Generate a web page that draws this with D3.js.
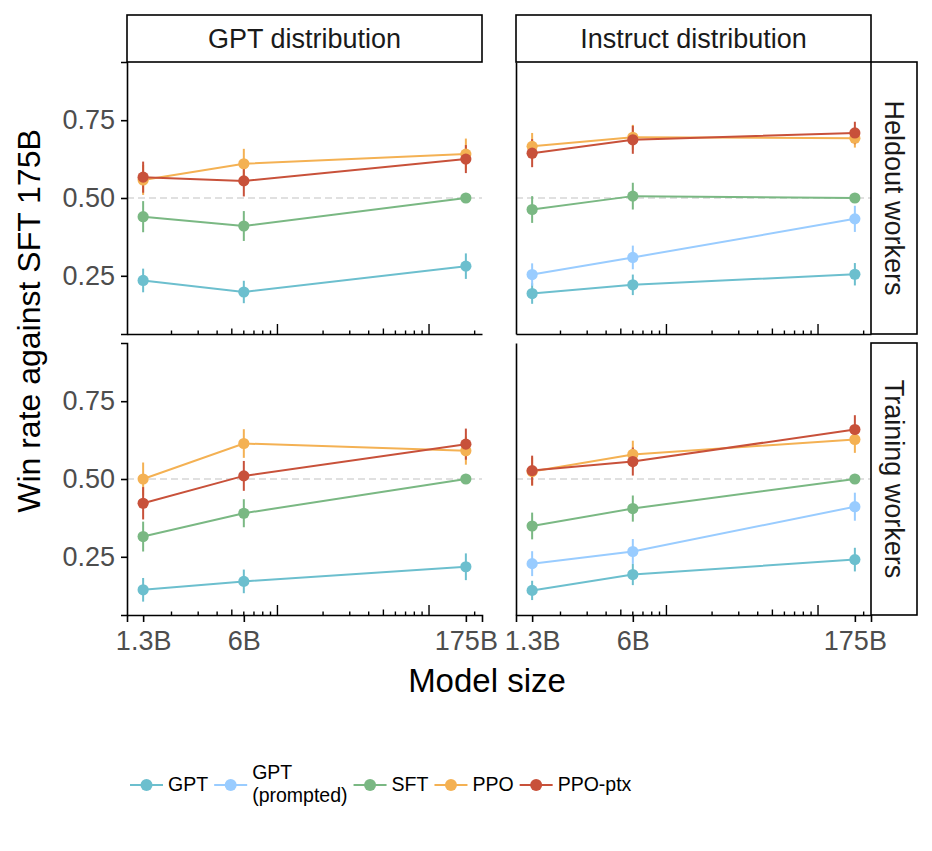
<!DOCTYPE html>
<html>
<head>
<meta charset="utf-8">
<script src="https://cdn.jsdelivr.net/npm/d3@7"></script>
<style>
  body { margin: 0; background: #fff; }
  svg { display: block; font-family: 'Liberation Sans', Arial, Helvetica, sans-serif; }
</style>
</head>
<body>
<div id="chart"></div>
<script>
// model sizes on the x axis
const sizeLabels = ['1.3B', '6B', '175B'];
const sizeParams = [1.3e9, 6e9, 175e9];

const colLabels = ['GPT distribution', 'Instruct distribution'];
const rowLabels = ['Heldout workers', 'Training workers'];

const seriesNames = ['GPT', 'GPT (prompted)', 'SFT', 'PPO', 'PPO-ptx'];
const legendLabels = ['GPT', 'GPT\n(prompted)', 'SFT', 'PPO', 'PPO-ptx'];
const seriesColors = ['#6cbfce', '#99ccff', '#7ab883', '#f4b153', '#c8513a'];

const yTicks = [0.25, 0.5, 0.75];

// win rate vs SFT 175B, rows = series, cols = model size (null = not run)
const heldoutGptDist = [
  [0.235, 0.198, 0.281],
  null,
  [0.440, 0.410, 0.500],
  [0.558, 0.610, 0.641],
  [0.567, 0.555, 0.625]
];
const heldoutGptDistErr = [
  [0.038, 0.036, 0.041],
  null,
  [0.050, 0.048, 0],
  [0.048, 0.048, 0.050],
  [0.050, 0.050, 0.045]
];

const heldoutInstructDist = [
  [0.193, 0.221, 0.255],
  [0.254, 0.309, 0.433],
  [0.463, 0.506, 0.500],
  [0.666, 0.695, 0.692],
  [0.644, 0.687, 0.709]
];
const heldoutInstructDistErr = [
  [0.033, 0.033, 0.036],
  [0.036, 0.038, 0.042],
  [0.043, 0.043, 0],
  [0.043, 0.040, 0.030],
  [0.045, 0.045, 0.036]
];

const trainingGptDist = [
  [0.144, 0.171, 0.218],
  null,
  [0.315, 0.390, 0.500],
  [0.500, 0.614, 0.591],
  [0.422, 0.510, 0.612]
];
const trainingGptDistErr = [
  [0.038, 0.038, 0.043],
  null,
  [0.048, 0.045, 0],
  [0.053, 0.046, 0.045],
  [0.052, 0.048, 0.050]
];

const trainingInstructDist = [
  [0.142, 0.193, 0.241],
  [0.228, 0.267, 0.411],
  [0.349, 0.405, 0.500],
  [0.524, 0.579, 0.627],
  [0.527, 0.556, 0.659]
];
const trainingInstructDistErr = [
  [0.031, 0.034, 0.038],
  [0.040, 0.040, 0.045],
  [0.043, 0.042, 0],
  [0.045, 0.044, 0.043],
  [0.048, 0.045, 0.046]
];

const panels = [
  { col: 0, row: 0, vals: heldoutGptDist, errs: heldoutGptDistErr },
  { col: 1, row: 0, vals: heldoutInstructDist, errs: heldoutInstructDistErr },
  { col: 0, row: 1, vals: trainingGptDist, errs: trainingGptDistErr },
  { col: 1, row: 1, vals: trainingInstructDist, errs: trainingInstructDistErr }
];

const w = 932, h = 851;
const panelW = 355, panelH = 272;
const colX = [127, 516];
const rowY = [62, 343];
const stripH = 47, stripW = 46;

const svg = d3.select('#chart')
  .append('svg')
  .attr('width', w)
  .attr('height', h);

svg.append('rect').attr('width', w).attr('height', h).attr('fill', '#fff');

// 5% expansion on log x, like ggplot
const lo = Math.log10(sizeParams[0]), hi = Math.log10(sizeParams[2]);
const pad = 0.05 * (hi - lo);
const x = d3.scaleLog()
  .domain([Math.pow(10, lo - pad), Math.pow(10, hi + pad)])
  .range([0, panelW]);

const y = d3.scaleLinear()
  .domain([0.063, 0.937])
  .range([panelH, 0]);

const line = d3.line()
  .defined(d => d != null)
  .x((d, i) => x(sizeParams[i]))
  .y(d => y(d));

panels.forEach(p => {
  const g = svg.append('g')
    .attr('transform', `translate(${colX[p.col]},${rowY[p.row]})`);

  // reference line at 0.5
  g.append('line')
    .attr('x1', 0).attr('x2', panelW)
    .attr('y1', y(0.5)).attr('y2', y(0.5))
    .attr('stroke', '#d6d6d6')
    .attr('stroke-width', 1.6)
    .attr('stroke-dasharray', '7,4');

  // log ticks along the bottom
  g.selectAll('.logtick')
    .data(x.ticks())
    .enter()
    .append('line')
    .attr('class', 'logtick')
    .attr('x1', d => x(d)).attr('x2', d => x(d))
    .attr('y1', panelH)
    .attr('y2', d => {
      const m = Math.round(d / Math.pow(10, Math.floor(Math.log10(d) + 1e-9)));
      return panelH - (m === 1 ? 10 : m === 5 ? 5.5 : 3.5);
    })
    .attr('stroke', '#000')
    .attr('stroke-width', 1.4);

  const series = p.vals.map((v, i) => ({ v, e: p.errs[i], color: seriesColors[i] }))
    .filter(s => s.v);

  g.selectAll('.line')
    .data(series)
    .enter()
    .append('path')
    .attr('d', s => line(s.v))
    .attr('fill', 'none')
    .attr('stroke', s => s.color)
    .attr('stroke-width', 2);

  series.forEach(s => {
    g.selectAll(null)
      .data(s.v)
      .enter()
      .append('line')
      .filter((d, i) => s.e[i] > 0)
      .attr('x1', (d, i) => x(sizeParams[i]))
      .attr('x2', (d, i) => x(sizeParams[i]))
      .attr('y1', (d, i) => y(d - s.e[i]))
      .attr('y2', (d, i) => y(d + s.e[i]))
      .attr('stroke', s.color)
      .attr('stroke-width', 2);
  });

  series.forEach(s => {
    g.selectAll(null)
      .data(s.v)
      .enter()
      .append('circle')
      .attr('cx', (d, i) => x(sizeParams[i]))
      .attr('cy', d => y(d))
      .attr('r', 5.6)
      .attr('fill', s.color);
  });

  // left axis
  const yAxis = d3.axisLeft(y).tickSizeOuter(0);
  if (p.col === 0) {
    yAxis.tickValues(yTicks).tickFormat(d3.format('.2f')).tickSize(6).tickPadding(6);
  } else {
    yAxis.tickValues([]);
  }
  const ya = g.append('g').call(yAxis);

  // bottom axis
  const xAxis = d3.axisBottom(x).tickSizeOuter(0);
  if (p.row === 1) {
    xAxis.tickValues(sizeParams).tickFormat((d, i) => sizeLabels[i]).tickSize(7).tickPadding(9);
  } else {
    xAxis.tickValues([]);
  }
  const xa = g.append('g').attr('transform', `translate(0,${panelH})`).call(xAxis);

  [ya, xa].forEach(a => {
    a.select('.domain').attr('stroke', '#000').attr('stroke-width', 1.6);
    a.selectAll('.tick line').attr('stroke', '#000').attr('stroke-width', 1.6);
    a.selectAll('.tick text')
      .attr('fill', '#4d4d4d')
      .style('font-size', '27px')
      .style('font-family', "'Liberation Sans', Arial, sans-serif");
  });
});

// column strips
colLabels.forEach((lab, c) => {
  svg.append('rect')
    .attr('x', colX[c]).attr('y', rowY[0] - stripH)
    .attr('width', panelW).attr('height', stripH)
    .attr('fill', '#fff').attr('stroke', '#000').attr('stroke-width', 1.6);
  svg.append('text')
    .attr('x', colX[c] + panelW / 2).attr('y', rowY[0] - stripH / 2 + 9.5)
    .attr('text-anchor', 'middle')
    .style('font-size', '27px')
    .attr('fill', '#1a1a1a')
    .text(lab);
});

// row strips
rowLabels.forEach((lab, r) => {
  const sx = colX[1] + panelW;
  svg.append('rect')
    .attr('x', sx).attr('y', rowY[r])
    .attr('width', stripW).attr('height', panelH)
    .attr('fill', '#fff').attr('stroke', '#000').attr('stroke-width', 1.6);
  const cx = sx + stripW / 2 - 9.5, cy = rowY[r] + panelH / 2;
  svg.append('text')
    .attr('transform', `translate(${cx},${cy}) rotate(90)`)
    .attr('text-anchor', 'middle')
    .style('font-size', '27px')
    .attr('fill', '#1a1a1a')
    .text(lab);
});

// axis titles
svg.append('text')
  .attr('x', 487).attr('y', 692)
  .attr('text-anchor', 'middle')
  .style('font-size', '33px')
  .text('Model size');

svg.append('text')
  .attr('transform', 'translate(40,321) rotate(-90)')
  .attr('text-anchor', 'middle')
  .style('font-size', '32px')
  .text('Win rate against SFT 175B');

// legend
let lx = 130;
const ly = 785;
legendLabels.forEach((lab, i) => {
  const g = svg.append('g').attr('transform', `translate(${lx},${ly})`);
  g.append('line')
    .attr('x1', 0).attr('x2', 33)
    .attr('stroke', seriesColors[i]).attr('stroke-width', 2);
  g.append('circle')
    .attr('cx', 16.5).attr('r', 6)
    .attr('fill', seriesColors[i]);
  const parts = lab.split('\n');
  const t = g.append('text')
    .attr('x', 38)
    .style('font-size', '19.5px');
  parts.forEach((s, k) => {
    t.append('tspan')
      .attr('x', 38)
      .attr('y', parts.length === 1 ? 6 : (k === 0 ? -6 : 17))
      .text(s);
  });
  lx += 38 + t.node().getBBox().width + 6;
});
</script>
</body>
</html>
